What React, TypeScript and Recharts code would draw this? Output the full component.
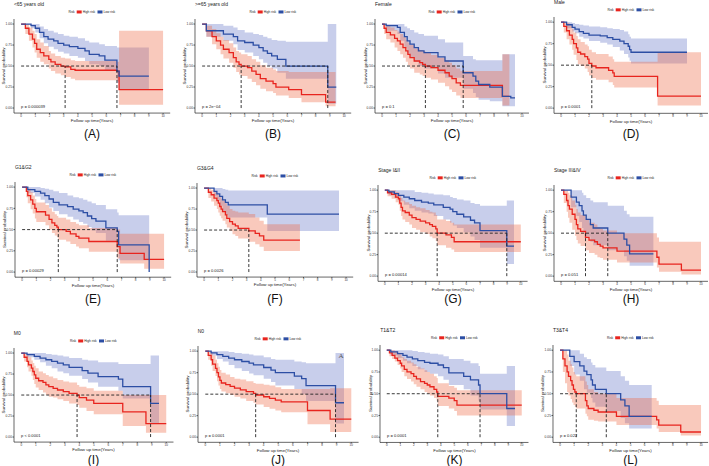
import React from "react"
import { ComposedChart, Line, Area, XAxis, YAxis, ReferenceLine } from "recharts"

// [time, survival, lower CI, upper CI]
type Pt = [number, number, number, number]

const titles = ["<65 years old", ">=65 years old", "Female", "Male", "G1&G2", "G3&G4", "Stage I&II", "Stage III&IV", "M0", "N0", "T1&T2", "T3&T4"]
const panelTags = ["(A)", "(B)", "(C)", "(D)", "(E)", "(F)", "(G)", "(H)", "(I)", "(J)", "(K)", "(L)"]
const pValues = ["p = 0.000039", "p = 2e\u221204", "p = 0.1", "p = 0.0001", "p = 0.00029", "p = 0.0026", "p = 0.00014", "p = 0.051", "p < 0.0001", "p = 0.0001", "p = 0.0001", "p = 0.022"]
const medianHigh = [3.1, 2.75, 3.1, 2.2, 2.55, 3.15, 3.85, 1.75, 3.85, 3.45, 3.78, 1.15]
const medianLow: (number | null)[] = [6.75, 8.85, 5.8, null, 6.7, null, 8.97, 3.34, 8.92, 8.92, 6.91, 3.28]
const xTicks = [0, 1, 2, 3, 4, 5, 6, 7, 8, 9, 10]
const yTicks = [0, 0.25, 0.5, 0.75, 1]

const aHigh: Pt[] = [[0,1,1,1],[0.3,0.95,0.88,1],[0.55,0.88,0.8,0.96],[0.8,0.82,0.72,0.92],[0.95,0.77,0.66,0.88],[1.1,0.7,0.6,0.82],[1.35,0.66,0.55,0.78],[1.6,0.62,0.52,0.74],[1.95,0.58,0.47,0.68],[2.1,0.55,0.44,0.65],[2.4,0.52,0.41,0.62],[2.8,0.5,0.39,0.6],[3.1,0.49,0.37,0.59],[3.5,0.46,0.35,0.57],[3.8,0.45,0.33,0.56],[6.75,0.44,0.32,0.55],[6.9,0.22,0.04,0.92],[10,0.22,0.04,0.92]]
const aLow: Pt[] = [[0,1,1,1],[0.7,0.98,0.95,1],[1,0.95,0.9,1],[1.3,0.9,0.83,0.97],[1.6,0.85,0.77,0.94],[1.9,0.82,0.73,0.92],[2.3,0.8,0.7,0.9],[2.6,0.77,0.67,0.88],[3,0.75,0.65,0.86],[3.4,0.73,0.62,0.85],[4,0.71,0.6,0.83],[4.5,0.68,0.56,0.8],[4.8,0.64,0.52,0.78],[5.5,0.62,0.5,0.76],[5.9,0.57,0.45,0.74],[6.75,0.44,0.3,0.72],[6.9,0.38,0.22,0.72],[9,0.38,0.22,0.72]]
const bHigh: Pt[] = [[0,1,1,1],[0.3,0.92,0.85,0.98],[0.7,0.85,0.76,0.94],[1,0.8,0.7,0.89],[1.3,0.75,0.64,0.85],[1.5,0.7,0.59,0.81],[1.9,0.66,0.54,0.77],[2.2,0.6,0.48,0.72],[2.4,0.55,0.43,0.68],[2.6,0.52,0.4,0.66],[2.75,0.5,0.38,0.64],[3.2,0.48,0.35,0.62],[3.5,0.44,0.31,0.58],[3.8,0.4,0.27,0.55],[4.1,0.35,0.23,0.51],[4.5,0.32,0.2,0.48],[5,0.29,0.18,0.46],[5.2,0.25,0.15,0.44],[6.1,0.22,0.12,0.43],[7,0.16,0.07,0.43],[8.7,0.07,0.02,0.43],[9.4,0.07,0.02,0.43]]
const bLow: Pt[] = [[0,1,1,1],[0.3,0.92,0.85,1],[1.5,0.88,0.8,0.98],[2.2,0.85,0.76,0.96],[2.5,0.8,0.69,0.93],[3,0.78,0.66,0.9],[3.6,0.75,0.62,0.88],[4,0.72,0.58,0.87],[4.3,0.68,0.54,0.85],[4.6,0.65,0.5,0.83],[4.9,0.62,0.47,0.81],[5.3,0.58,0.42,0.8],[5.9,0.5,0.35,0.79],[8.85,0.25,0.05,1],[9.45,0.25,0.05,1]]
const cHigh: Pt[] = [[0,1,1,1],[0.15,0.95,0.88,1],[0.3,0.9,0.82,0.98],[0.6,0.87,0.78,0.96],[0.9,0.83,0.72,0.93],[1.1,0.8,0.68,0.91],[1.3,0.76,0.64,0.88],[1.5,0.72,0.6,0.85],[1.7,0.68,0.55,0.81],[1.85,0.64,0.51,0.78],[2,0.6,0.47,0.75],[2.3,0.56,0.42,0.71],[2.7,0.54,0.4,0.69],[2.9,0.52,0.38,0.68],[3.1,0.5,0.36,0.66],[3.5,0.48,0.34,0.63],[4,0.45,0.3,0.6],[4.5,0.42,0.26,0.57],[4.8,0.38,0.22,0.54],[5,0.35,0.19,0.51],[5.3,0.3,0.15,0.47],[5.6,0.27,0.12,0.44],[8.6,0.14,0.03,0.64],[9.1,0.14,0.03,0.64]]
const cLow: Pt[] = [[0,1,1,1],[0.3,0.98,0.92,1],[1.1,0.96,0.88,1],[1.3,0.9,0.8,1],[1.6,0.85,0.72,0.97],[1.8,0.8,0.65,0.95],[2,0.76,0.6,0.93],[2.3,0.72,0.55,0.9],[2.6,0.68,0.5,0.88],[3,0.66,0.47,0.86],[4,0.61,0.41,0.82],[4.5,0.56,0.36,0.78],[5.8,0.42,0.23,0.62],[6.5,0.38,0.18,0.58],[6.7,0.32,0.13,0.57],[6.9,0.28,0.1,0.57],[7.7,0.25,0.08,0.57],[8.6,0.14,0.02,0.64],[9.2,0.12,0.02,0.64],[9.5,0.12,0.02,0.64]]
const dHigh: Pt[] = [[0,1,1,1],[0.2,0.95,0.88,1],[0.4,0.9,0.8,0.99],[0.6,0.85,0.74,0.96],[0.8,0.8,0.68,0.92],[0.9,0.75,0.62,0.88],[1.1,0.7,0.56,0.84],[1.2,0.65,0.51,0.8],[1.4,0.63,0.49,0.77],[1.7,0.6,0.46,0.74],[1.9,0.57,0.42,0.72],[2,0.52,0.38,0.68],[2.2,0.49,0.35,0.65],[2.5,0.47,0.33,0.63],[3.4,0.44,0.3,0.6],[3.7,0.41,0.27,0.57],[3.8,0.37,0.24,0.54],[6.9,0.14,0.03,0.65],[10,0.14,0.03,0.65]]
const dLow: Pt[] = [[0,1,1,1],[0.4,0.97,0.93,1],[0.8,0.94,0.89,0.99],[1,0.92,0.87,0.98],[1.3,0.89,0.83,0.97],[1.6,0.87,0.81,0.96],[2,0.85,0.78,0.95],[2.8,0.84,0.76,0.94],[3.3,0.82,0.74,0.93],[3.7,0.8,0.71,0.92],[4.2,0.78,0.67,0.91],[4.5,0.75,0.63,0.89],[4.8,0.72,0.59,0.86],[4.9,0.68,0.55,0.83],[5,0.65,0.52,0.81],[9,0.65,0.52,0.81]]
const eHigh: Pt[] = [[0,1,1,1],[0.3,0.95,0.88,1],[0.4,0.9,0.81,0.98],[0.6,0.85,0.74,0.94],[0.75,0.8,0.69,0.9],[0.9,0.75,0.63,0.86],[1,0.71,0.59,0.82],[1.65,0.67,0.55,0.79],[1.9,0.62,0.5,0.75],[2.1,0.58,0.46,0.71],[2.3,0.55,0.43,0.68],[2.45,0.53,0.41,0.66],[2.55,0.5,0.38,0.64],[3.1,0.48,0.36,0.62],[3.4,0.45,0.33,0.59],[3.8,0.42,0.3,0.57],[4,0.4,0.28,0.55],[4.7,0.36,0.24,0.52],[6.7,0.3,0.16,0.5],[6.9,0.22,0.1,0.45],[8.6,0.15,0.04,0.45],[10,0.15,0.04,0.45]]
const eLow: Pt[] = [[0,1,1,1],[0.4,0.97,0.93,1],[0.9,0.95,0.89,1],[1.3,0.93,0.85,0.99],[1.6,0.9,0.81,0.98],[1.9,0.86,0.76,0.97],[2.2,0.82,0.72,0.95],[2.6,0.79,0.68,0.93],[3.2,0.77,0.65,0.9],[3.6,0.74,0.62,0.88],[4,0.72,0.59,0.87],[4.3,0.7,0.57,0.85],[4.6,0.66,0.53,0.83],[4.9,0.63,0.49,0.81],[5.2,0.6,0.46,0.79],[5.9,0.52,0.37,0.74],[6.7,0.48,0.32,0.7],[6.8,0.32,0.14,0.67],[8.95,0,0,0]]
const fHigh: Pt[] = [[0,1,1,1],[0.3,0.95,0.88,1],[0.5,0.92,0.84,0.98],[0.7,0.88,0.79,0.95],[0.9,0.85,0.75,0.93],[1,0.82,0.71,0.91],[1.1,0.78,0.67,0.89],[1.2,0.75,0.64,0.87],[1.3,0.72,0.61,0.85],[1.5,0.68,0.57,0.82],[1.6,0.64,0.53,0.79],[1.8,0.6,0.49,0.75],[2,0.57,0.45,0.73],[2.2,0.55,0.43,0.72],[2.4,0.52,0.4,0.71],[3.15,0.49,0.36,0.69],[3.6,0.46,0.33,0.65],[3.9,0.43,0.3,0.61],[4.2,0.38,0.25,0.57],[6.75,0.38,0.25,0.57]]
const fLow: Pt[] = [[0,1,1,1],[0.7,0.96,0.9,1],[0.9,0.93,0.85,1],[1.1,0.9,0.79,1],[1.3,0.86,0.72,0.99],[1.5,0.83,0.68,0.98],[1.7,0.8,0.65,0.97],[4.45,0.69,0.49,0.97],[9.5,0.69,0.49,0.97]]
const gHigh: Pt[] = [[0,1,1,1],[0.2,0.97,0.93,1],[0.5,0.95,0.9,1],[0.8,0.92,0.86,0.98],[1,0.9,0.83,0.97],[1.1,0.85,0.76,0.94],[1.2,0.8,0.7,0.91],[1.3,0.76,0.66,0.88],[1.5,0.74,0.63,0.86],[1.8,0.71,0.6,0.84],[2,0.68,0.56,0.82],[2.3,0.66,0.54,0.8],[2.6,0.64,0.51,0.79],[3,0.62,0.49,0.77],[3.3,0.6,0.46,0.75],[3.5,0.58,0.44,0.74],[3.75,0.55,0.41,0.71],[3.85,0.5,0.36,0.66],[4.5,0.48,0.33,0.64],[4.9,0.45,0.31,0.62],[5.1,0.4,0.28,0.6],[10,0.4,0.28,0.6]]
const gLow: Pt[] = [[0,1,1,1],[0.3,0.98,0.94,1],[0.7,0.96,0.91,1],[1,0.94,0.87,1],[1.4,0.92,0.83,1],[1.8,0.9,0.79,1],[2.2,0.88,0.76,0.98],[2.7,0.86,0.74,0.97],[3.2,0.85,0.73,0.96],[3.6,0.83,0.7,0.95],[4.3,0.8,0.66,0.94],[4.8,0.78,0.62,0.92],[5,0.75,0.59,0.91],[5.3,0.72,0.56,0.89],[5.8,0.69,0.51,0.88],[6.3,0.65,0.46,0.85],[6.6,0.62,0.42,0.84],[7,0.53,0.33,0.82],[8.97,0.35,0.14,0.88],[9.5,0.35,0.14,0.88]]
const hHigh: Pt[] = [[0,1,1,1],[0.2,0.95,0.85,1],[0.4,0.88,0.75,1],[0.5,0.82,0.68,0.97],[0.6,0.78,0.62,0.94],[0.8,0.72,0.54,0.88],[1,0.66,0.47,0.83],[1.1,0.6,0.42,0.78],[1.2,0.55,0.38,0.74],[1.4,0.52,0.35,0.71],[1.75,0.45,0.3,0.66],[2,0.42,0.27,0.62],[2.4,0.4,0.25,0.6],[2.6,0.37,0.22,0.57],[2.8,0.35,0.21,0.55],[3,0.33,0.19,0.53],[4,0.29,0.16,0.5],[6.85,0.22,0.1,0.45],[7,0.14,0.05,0.4],[8.6,0.07,0.02,0.4],[10,0.07,0.02,0.4]]
const hLow: Pt[] = [[0,1,1,1],[0.72,0.92,0.8,1],[1.1,0.86,0.7,1],[1.3,0.82,0.63,1],[1.5,0.76,0.56,0.97],[1.6,0.71,0.51,0.94],[1.8,0.66,0.46,0.91],[2.1,0.6,0.4,0.88],[2.3,0.56,0.36,0.86],[3.34,0.5,0.3,0.82],[4.5,0.43,0.23,0.76],[4.7,0.36,0.18,0.72],[4.9,0.26,0.12,0.69],[6.6,0.26,0.12,0.69]]
const iHigh: Pt[] = [[0,1,1,1],[0.2,0.95,0.9,1],[0.4,0.9,0.83,0.98],[0.5,0.86,0.78,0.95],[0.7,0.82,0.73,0.91],[0.8,0.78,0.68,0.88],[0.9,0.74,0.63,0.85],[1,0.7,0.59,0.82],[1.2,0.67,0.56,0.78],[1.5,0.65,0.53,0.76],[1.7,0.62,0.5,0.74],[1.9,0.6,0.48,0.72],[2.2,0.58,0.47,0.7],[2.5,0.56,0.45,0.68],[2.9,0.54,0.43,0.66],[3.3,0.52,0.4,0.65],[3.85,0.5,0.38,0.62],[4,0.47,0.35,0.6],[4.5,0.44,0.31,0.58],[5,0.4,0.27,0.55],[7,0.3,0.13,0.5],[8.6,0.16,0.05,0.5],[10,0.16,0.05,0.5]]
const iLow: Pt[] = [[0,1,1,1],[0.4,0.98,0.95,1],[0.9,0.96,0.92,1],[1.3,0.94,0.89,1],[1.7,0.92,0.85,0.99],[2.1,0.9,0.82,0.98],[2.5,0.88,0.78,0.97],[2.9,0.86,0.76,0.96],[3.3,0.83,0.73,0.94],[4.2,0.79,0.69,0.92],[4.6,0.76,0.65,0.91],[5.3,0.72,0.6,0.89],[6.7,0.69,0.55,0.87],[7,0.6,0.46,0.87],[8.92,0.4,0.16,0.97],[9.5,0.4,0.16,0.97]]
const jHigh: Pt[] = [[0,1,1,1],[0.2,0.95,0.9,1],[0.4,0.9,0.83,0.98],[0.5,0.85,0.77,0.95],[0.7,0.8,0.71,0.9],[0.8,0.75,0.65,0.86],[0.9,0.7,0.6,0.82],[1,0.66,0.56,0.78],[1.1,0.63,0.53,0.75],[1.4,0.61,0.51,0.73],[1.7,0.59,0.49,0.7],[2,0.57,0.47,0.68],[2.4,0.55,0.45,0.67],[2.8,0.53,0.42,0.65],[3.3,0.51,0.4,0.63],[3.45,0.49,0.38,0.62],[4,0.47,0.35,0.61],[4.4,0.45,0.33,0.6],[4.8,0.43,0.31,0.58],[5.2,0.41,0.29,0.56],[7,0.31,0.15,0.56],[8.55,0.21,0.06,0.57],[10,0.21,0.06,0.57]]
const jLow: Pt[] = [[0,1,1,1],[0.4,0.98,0.95,1],[0.8,0.96,0.91,1],[1.2,0.94,0.88,1],[1.6,0.92,0.84,0.99],[2,0.9,0.8,0.98],[2.5,0.88,0.77,0.97],[3,0.86,0.74,0.96],[3.3,0.84,0.72,0.95],[4,0.81,0.68,0.93],[4.5,0.78,0.64,0.91],[4.8,0.75,0.6,0.9],[6.1,0.71,0.56,0.88],[6.6,0.68,0.5,0.87],[6.9,0.6,0.42,0.86],[8.92,0.4,0.16,0.98],[9.5,0.4,0.16,0.98]]
const kHigh: Pt[] = [[0,1,1,1],[0.2,0.97,0.93,1],[0.4,0.94,0.9,1],[0.6,0.91,0.87,0.99],[0.8,0.88,0.83,0.97],[1,0.85,0.79,0.95],[1.1,0.82,0.75,0.92],[1.3,0.78,0.7,0.9],[1.5,0.75,0.67,0.88],[1.8,0.73,0.64,0.86],[2,0.7,0.61,0.84],[2.2,0.67,0.58,0.81],[2.5,0.64,0.55,0.79],[2.8,0.62,0.52,0.77],[3,0.6,0.5,0.75],[3.2,0.58,0.48,0.73],[3.5,0.55,0.45,0.7],[3.7,0.52,0.42,0.68],[3.78,0.47,0.36,0.62],[4.6,0.45,0.33,0.59],[5,0.42,0.3,0.57],[5.2,0.37,0.25,0.54],[10,0.37,0.25,0.54]]
const kLow: Pt[] = [[0,1,1,1],[0.3,0.98,0.94,1],[0.8,0.96,0.91,1],[1.2,0.94,0.88,1],[1.5,0.92,0.85,1],[1.9,0.9,0.82,0.99],[2.3,0.88,0.78,0.98],[2.8,0.86,0.75,0.97],[3.2,0.85,0.73,0.96],[3.8,0.83,0.7,0.95],[4.2,0.8,0.66,0.93],[4.6,0.74,0.6,0.9],[5.7,0.7,0.55,0.88],[6.2,0.66,0.48,0.85],[6.8,0.6,0.42,0.82],[6.91,0.5,0.32,0.73],[8.89,0.33,0.13,0.82],[9.5,0.33,0.13,0.82]]
const lHigh: Pt[] = [[0,1,1,1],[0.2,0.9,0.75,1],[0.35,0.82,0.62,1],[0.5,0.75,0.52,0.95],[0.6,0.7,0.48,0.88],[0.75,0.65,0.44,0.84],[0.85,0.6,0.4,0.8],[0.95,0.55,0.37,0.75],[1.05,0.52,0.35,0.72],[1.15,0.5,0.33,0.7],[1.8,0.42,0.27,0.64],[1.9,0.36,0.24,0.6],[2,0.33,0.2,0.55],[2.4,0.31,0.19,0.52],[2.7,0.29,0.18,0.5],[4,0.24,0.14,0.45],[6.85,0.2,0.1,0.42],[7,0.14,0.06,0.37],[8.56,0.06,0.02,0.37],[10,0.06,0.02,0.37]]
const lLow: Pt[] = [[0,1,1,1],[0.69,0.93,0.82,1],[1,0.87,0.72,1],[1.4,0.82,0.65,0.96],[1.7,0.76,0.55,0.92],[1.9,0.72,0.51,0.9],[2.2,0.66,0.45,0.86],[2.3,0.6,0.4,0.83],[2.5,0.55,0.35,0.8],[3.28,0.5,0.3,0.76],[4.3,0.43,0.22,0.7],[4.6,0.36,0.16,0.65],[4.9,0.24,0.1,0.6],[6.5,0.24,0.1,0.6]]

const highSeries = [aHigh, bHigh, cHigh, dHigh, eHigh, fHigh, gHigh, hHigh, iHigh, jHigh, kHigh, lHigh]
const lowSeries = [aLow, bLow, cLow, dLow, eLow, fLow, gLow, hLow, iLow, jLow, kLow, lLow]

// pixel positions of t=0, t=10, S=1, S=0 for each panel
const layout = [
  [21, 163, 24, 108], [202, 344, 24, 108], [382, 522, 24, 108], [561, 701, 22, 108],
  [22, 164, 187, 272], [204, 346, 188, 272], [385, 521, 190, 276], [561, 701, 190, 276],
  [21, 166, 353, 437], [205, 351, 351, 437], [387, 522, 350, 437], [560, 701, 350, 437],
]
const tagY = [133, 298, 459]

const RED = "#E8241E"
const BLUE = "#2C4EA4"
const RED_FILL = "#EE6A45"
const BLUE_FILL = "#5566C2"
const FONT = "'Liberation Sans', Arial, sans-serif"

const toRows = (pts: Pt[]) => pts.map(([t, s, lo, hi]) => ({ t, s, band: [lo, hi] }))

function geom(i: number) {
  const [x0, x10, y1, y0] = layout[i]
  const ppy = (x10 - x0) / 10
  const ppu = y0 - y1
  return {
    x0, y0, ppy, ppu,
    left: x0 - 0.5 * ppy,
    right: x10 + 0.5 * ppy,
    top: y1 - 0.06 * ppu,
    bottom: y0 + 0.06 * ppu,
  }
}

const W = 14, T = 2, R = 2, H = 6

function Panel({ i }: { i: number }) {
  const g = geom(i)
  const high = toRows(highSeries[i])
  const low = toRows(lowSeries[i])
  const mh = medianHigh[i]
  const ml = medianLow[i]
  const mMax = Math.max(mh, ml ?? 0)
  const width = W + (g.right - g.left) + R
  const height = T + (g.bottom - g.top) + H
  const axisStyle = { stroke: "#000", strokeWidth: 0.6 }
  return (
    <div style={{ position: "absolute", left: g.left - W, top: g.top - T }}>
      <ComposedChart width={width} height={height} margin={{ top: T, right: R, bottom: 0, left: 0 }}>
        <XAxis type="number" dataKey="t" domain={[-0.5, 10.5]} ticks={xTicks} interval={0} height={H}
          axisLine={axisStyle} tickLine={axisStyle} tickSize={1.2} tickMargin={0.2}
          tick={{ fontSize: 3, fill: "#333", fontFamily: FONT }} allowDataOverflow />
        <YAxis type="number" domain={[-0.06, 1.06]} ticks={yTicks} interval={0} width={W}
          axisLine={axisStyle} tickLine={axisStyle} tickSize={1.5} tickMargin={0.5}
          tickFormatter={(v: number) => v.toFixed(2)}
          tick={{ fontSize: 3.3, fill: "#333", fontFamily: FONT }} allowDataOverflow />
        <Line data={high} dataKey="s" type="stepAfter" stroke={RED} strokeWidth={1.3} dot={false} activeDot={false} isAnimationActive={false} />
        <Line data={low} dataKey="s" type="stepAfter" stroke={BLUE} strokeWidth={1.3} dot={false} activeDot={false} isAnimationActive={false} />
        <Area data={low} dataKey="band" type="stepAfter" stroke="none" fill={BLUE_FILL} fillOpacity={0.32} dot={false} activeDot={false} isAnimationActive={false} />
        <Area data={high} dataKey="band" type="stepAfter" stroke="none" fill={RED_FILL} fillOpacity={0.36} dot={false} activeDot={false} isAnimationActive={false} />
        <ReferenceLine segment={[{ x: 0, y: 0.5 }, { x: mMax, y: 0.5 }]} stroke="#222" strokeWidth={0.9} strokeDasharray="3 2" />
        <ReferenceLine segment={[{ x: mh, y: 0 }, { x: mh, y: 0.5 }]} stroke="#222" strokeWidth={0.9} strokeDasharray="3 2" />
        {ml !== null && (
          <ReferenceLine segment={[{ x: ml, y: 0 }, { x: ml, y: 0.5 }]} stroke="#222" strokeWidth={0.9} strokeDasharray="3 2" />
        )}
      </ComposedChart>
    </div>
  )
}

function Texts({ i }: { i: number }) {
  const g = geom(i)
  const cx = (g.left + g.right) / 2
  const ly = g.top - 7
  const sx = cx - 23.5
  const ycx = g.left - 10
  const ycy = (g.top + g.bottom) / 2
  return (
    <g fontFamily={FONT}>
      <text x={g.left} y={g.top - 12.5} fontSize={5} fill="#222">{titles[i]}</text>
      <text x={sx} y={ly + 1.1} fontSize={3.2} fill="#222">Risk</text>
      <rect x={sx + 8.2} y={ly - 1.5} width={5} height={3} fill={RED} />
      <text x={sx + 14.2} y={ly + 1.1} fontSize={3.2} fill="#222">High risk</text>
      <rect x={sx + 29} y={ly - 1.5} width={5} height={3} fill={BLUE} />
      <text x={sx + 35} y={ly + 1.1} fontSize={3.2} fill="#222">Low risk</text>
      <text x={g.x0} y={g.y0 - 0.3} fontSize={4.1} fill="#222">{pValues[i]}</text>
      <text x={cx} y={g.bottom + 9.4} fontSize={4.4} fill="#222" textAnchor="middle">Follow up time(Years)</text>
      <text x={ycx} y={ycy} fontSize={4.4} fill="#222" textAnchor="middle" dominantBaseline="central"
        transform={`rotate(-90 ${ycx} ${ycy})`}>Survival probability</text>
      <text x={cx} y={tagY[Math.floor(i / 4)] + 1} fontSize={12} fill="#111" textAnchor="middle" dominantBaseline="central">{panelTags[i]}</text>
    </g>
  )
}

export default function App() {
  const idx = titles.map((_, i) => i)
  return (
    <div style={{ position: "absolute", left: 0, top: 0, width: 709, height: 466, background: "#fff", overflow: "hidden" }}>
      {idx.map((i) => <Panel key={i} i={i} />)}
      <svg width={709} height={466} style={{ position: "absolute", left: 0, top: 0, pointerEvents: "none" }}>
        {idx.map((i) => <Texts key={i} i={i} />)}
        <text x={341} y={358} fontSize={7} fill="#555" fontFamily="'Liberation Serif', serif" textAnchor="middle">A</text>
      </svg>
    </div>
  )
}
